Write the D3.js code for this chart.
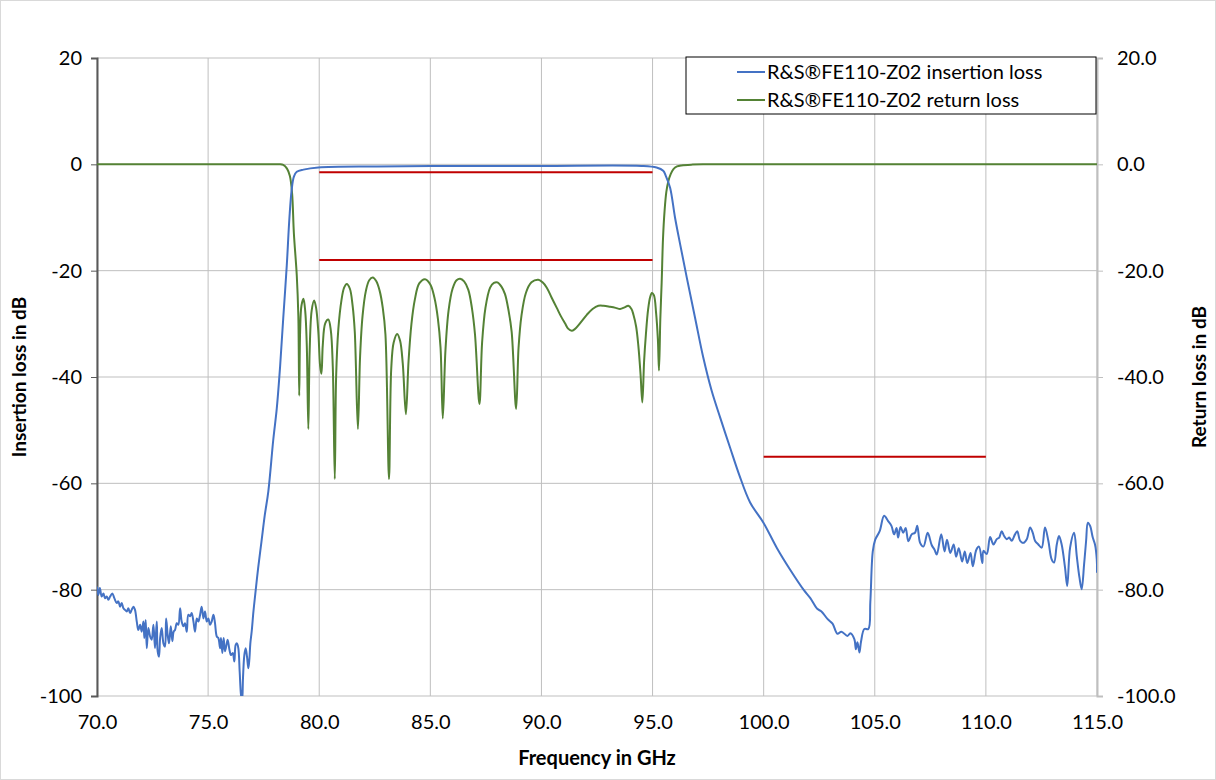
<!DOCTYPE html>
<html>
<head>
<meta charset="utf-8">
<script src="https://cdn.jsdelivr.net/npm/d3@7"></script>
<style>
  body { margin: 0; background: #fff; }
  svg { font-family: Lato, "Liberation Sans", sans-serif; }
</style>
</head>
<body>
<div id="chart"></div>
<script>
// tick values for both axes
const freqTicks = [70, 75, 80, 85, 90, 95, 100, 105, 110, 115];
const dbTicks = [20, 0, -20, -40, -60, -80, -100];

// series names
const seriesNames = ["R&S®FE110-Z02 insertion loss", "R&S®FE110-Z02 return loss"];

// insertion loss, [GHz, dB]
const insertionLoss = [
  [70.0, -79.4], [70.06, -81.0], [70.13, -79.7], [70.21, -81.3], [70.29, -80.7], [70.36, -81.6],
  [70.44, -81.3], [70.51, -81.9], [70.59, -81.3], [70.69, -80.7], [70.78, -81.6], [70.89, -82.5],
  [70.96, -82.2], [71.04, -83.2], [71.11, -82.5], [71.19, -83.5], [71.26, -83.8], [71.34, -84.1],
  [71.41, -83.5], [71.49, -84.4], [71.56, -83.8], [71.64, -83.2], [71.71, -83.8], [71.79, -86.0],
  [71.86, -87.6], [71.94, -86.6], [72.01, -87.9], [72.09, -86.0], [72.13, -89.1], [72.19, -85.7],
  [72.24, -91.0], [72.31, -87.2], [72.39, -88.8], [72.46, -89.4], [72.54, -86.6], [72.61, -91.0],
  [72.69, -86.0], [72.73, -91.6], [72.79, -92.6], [72.84, -89.1], [72.91, -87.2], [72.99, -90.1],
  [73.06, -90.7], [73.11, -85.4], [73.18, -88.5], [73.24, -90.1], [73.32, -86.9], [73.39, -89.7],
  [73.45, -87.9], [73.51, -87.6], [73.59, -86.3], [73.66, -86.6], [73.74, -83.5], [73.81, -86.0],
  [73.89, -86.9], [73.96, -86.3], [74.04, -87.9], [74.11, -84.7], [74.19, -85.0], [74.26, -84.4],
  [74.34, -86.0], [74.41, -87.9], [74.49, -85.4], [74.56, -86.0], [74.64, -84.7], [74.71, -83.2],
  [74.79, -85.4], [74.86, -84.1], [74.94, -86.0], [75.01, -85.4], [75.09, -86.6], [75.16, -86.0],
  [75.24, -84.7], [75.31, -86.3], [75.39, -88.8], [75.46, -89.1], [75.54, -91.0], [75.58, -89.1],
  [75.64, -91.9], [75.70, -89.1], [75.76, -91.6], [75.84, -90.1], [75.88, -89.4], [75.96, -91.3],
  [76.03, -92.3], [76.11, -91.9], [76.18, -93.5], [76.24, -90.4], [76.30, -90.1], [76.36, -91.0],
  [76.42, -95.4], [76.48, -99.8], [76.53, -101.0], [76.57, -96.6], [76.63, -92.3], [76.69, -91.0],
  [76.75, -92.6], [76.81, -94.8], [76.86, -92.9], [76.90, -90.1], [76.96, -87.9], [77.04, -84.1],
  [77.11, -81.3], [77.25, -76.0], [77.4, -71.0], [77.55, -66.0], [77.71, -61.5], [77.93, -51.9],
  [78.09, -45.9], [78.24, -38.0], [78.38, -29.0], [78.54, -19.0], [78.66, -10.0], [78.76, -4.8],
  [78.86, -2.3], [78.99, -1.4], [79.29, -1.0], [79.96, -0.6], [82.6, -0.4], [86.3, -0.3],
  [90.0, -0.3], [94.5, -0.3], [95.18, -0.6], [95.48, -1.2], [95.6, -2.2], [95.79, -4.4],
  [96.01, -10.0], [96.24, -15.0], [96.54, -21.3], [96.91, -28.8], [97.28, -36.3], [97.66, -42.6],
  [98.04, -47.6], [98.49, -53.3], [98.9, -58.4], [99.39, -63.6], [99.99, -67.4], [100.6, -72.2],
  [101.2, -76.3], [101.81, -80.1], [102.1, -81.6], [102.41, -83.6], [102.6, -84.1], [102.87, -85.5],
  [103.1, -86.4], [103.32, -88.3], [103.5, -87.9], [103.77, -88.7], [103.9, -88.2], [104.08, -89.3],
  [104.15, -91.2], [104.22, -89.9], [104.31, -91.8], [104.38, -89.8], [104.53, -87.4], [104.71, -87.4],
  [104.8, -82.3], [104.91, -72.8], [105.02, -70.6], [105.22, -69.0], [105.42, -66.1], [105.6, -67.1],
  [105.75, -68.0], [105.87, -69.6], [105.98, -68.4], [106.05, -70.2], [106.16, -68.2], [106.28, -69.3],
  [106.39, -68.4], [106.51, -70.9], [106.66, -69.6], [106.81, -69.3], [106.91, -68.0], [107.04, -71.2],
  [107.19, -71.9], [107.38, -69.3], [107.56, -71.6], [107.69, -72.5], [107.79, -73.4], [107.99, -69.6],
  [108.14, -72.8], [108.25, -70.6], [108.40, -73.1], [108.55, -71.5], [108.66, -73.8], [108.78, -72.2],
  [108.93, -74.7], [109.05, -72.8], [109.16, -75.0], [109.31, -73.1], [109.41, -75.6], [109.57, -72.5],
  [109.69, -71.9], [109.84, -75.0], [109.89, -72.7], [110.04, -73.3], [110.19, -70.1], [110.34, -71.5],
  [110.49, -70.5], [110.60, -70.2], [110.71, -69.0], [110.82, -69.9], [110.94, -70.5], [111.05, -70.2],
  [111.16, -70.8], [111.31, -69.6], [111.41, -69.0], [111.54, -70.8], [111.68, -71.2], [111.84, -70.5],
  [111.99, -68.3], [112.11, -69.3], [112.21, -70.8], [112.36, -71.5], [112.51, -72.1], [112.66, -68.3],
  [112.81, -70.8], [112.96, -74.3], [113.07, -74.9], [113.19, -71.5], [113.29, -69.9], [113.41, -71.5],
  [113.56, -75.8], [113.66, -79.3], [113.79, -72.1], [113.97, -69.3], [114.09, -73.7], [114.21, -77.7],
  [114.31, -79.9], [114.42, -75.2], [114.51, -70.8], [114.59, -67.4], [114.69, -68.0], [114.81, -70.2],
  [114.91, -71.5], [114.99, -74.3], [115.0, -76.8]
];

// return loss, [GHz, dB]
const returnLoss = [
  [70.0, 0], [72.0, 0], [74.0, 0], [76.0, 0], [77.0, 0], [77.6, 0], [78.0, 0],
  [78.2, 0], [78.38, -0.1], [78.55, -0.8], [78.68, -2.2], [78.78, -5.5], [78.86, -13.0],
  [78.99, -20.9], [79.06, -28.5], [79.10, -43.5], [79.14, -31.5], [79.2, -26.6], [79.29, -25.3],
  [79.37, -27.6], [79.44, -34.0], [79.51, -49.8], [79.57, -35.0], [79.66, -27.5], [79.77, -25.6],
  [79.86, -27.0], [79.96, -31.5], [80.04, -37.9], [80.10, -39.4], [80.16, -34.0], [80.27, -29.9],
  [80.41, -29.2], [80.52, -31.2], [80.61, -38.0], [80.70, -59.2], [80.76, -40.0], [80.86, -31.0],
  [81.0, -25.6], [81.12, -23.2], [81.24, -22.5], [81.38, -23.4], [81.5, -26.5], [81.6, -31.5],
  [81.74, -49.8], [81.84, -36.0], [81.95, -28.5], [82.1, -23.8], [82.25, -21.8], [82.41, -21.3],
  [82.57, -22.0], [82.72, -23.8], [82.86, -27.0], [82.98, -32.0], [83.14, -59.2], [83.24, -38.5],
  [83.35, -33.5], [83.51, -31.9], [83.64, -33.2], [83.76, -37.5], [83.90, -47.0], [84.02, -37.0],
  [84.15, -30.0], [84.3, -25.5], [84.5, -22.4], [84.76, -21.6], [85.0, -22.6], [85.18, -25.0],
  [85.34, -29.0], [85.46, -34.5], [85.56, -47.8], [85.68, -35.0], [85.82, -27.5], [86.0, -23.4],
  [86.18, -21.8], [86.34, -21.5], [86.52, -22.0], [86.71, -23.6], [86.87, -27.0], [87.01, -32.0],
  [87.21, -45.1], [87.33, -33.5], [87.48, -27.0], [87.69, -23.2], [87.86, -22.3], [88.02, -22.2],
  [88.2, -23.0], [88.36, -24.4], [88.52, -27.5], [88.66, -31.5], [88.86, -46.0], [88.97, -34.5],
  [89.1, -28.5], [89.3, -24.2], [89.55, -22.2], [89.86, -21.7], [90.05, -22.2], [90.24, -23.2],
  [90.45, -25.0], [90.69, -27.0], [90.88, -28.6], [91.06, -29.9], [91.2, -30.9], [91.36, -31.3],
  [91.5, -31.0], [91.66, -30.3], [91.85, -29.3], [92.04, -28.3], [92.3, -27.2], [92.56, -26.6],
  [92.8, -26.6], [93.09, -26.8], [93.34, -27.0], [93.54, -27.2], [93.74, -26.9], [93.91, -26.6],
  [94.05, -27.2], [94.14, -28.3], [94.26, -30.5], [94.36, -34.1], [94.46, -39.5], [94.54, -44.8],
  [94.62, -37.0], [94.70, -32.0], [94.8, -27.3], [94.89, -25.0], [94.97, -24.2], [95.06, -24.6],
  [95.16, -28.0], [95.24, -33.0], [95.29, -38.8], [95.35, -29.0], [95.41, -22.2], [95.47, -14.0],
  [95.54, -8.8], [95.62, -5.2], [95.71, -3.2], [95.82, -1.8], [95.94, -0.9], [96.1, -0.4],
  [96.3, -0.2], [96.8, -0.05], [97.27, 0], [98.0, 0], [99.0, 0], [101.0, 0], [104.0, 0],
  [107.0, 0], [110.0, 0], [113.0, 0], [115.0, 0]
];

// red limit lines: [from GHz, to GHz, dB]
const limitLines = [[80, 95, -1.5], [80, 95, -18], [100, 110, -55]];

const W = 1216, H = 780;
const margin = { top: 58, right: 119, bottom: 84, left: 97 };

const svg = d3.select("#chart").append("svg")
  .attr("width", W)
  .attr("height", H);

// outer frame of the chart
svg.append("rect")
  .attr("x", 0.5).attr("y", 0.5)
  .attr("width", W - 1).attr("height", H - 1)
  .attr("fill", "#fff")
  .attr("stroke", "#d9d9d9");

const x = d3.scaleLinear().domain([70, 115]).range([margin.left, W - margin.right]);
const y = d3.scaleLinear().domain([-100, 20]).range([H - margin.bottom, margin.top]);

// gridlines
svg.append("g")
  .selectAll("line")
  .data(dbTicks)
  .join("line")
  .attr("x1", x(70)).attr("x2", x(115))
  .attr("y1", d => y(d)).attr("y2", d => y(d))
  .attr("stroke", "#bfbfbf").attr("stroke-width", 1);

svg.append("g")
  .selectAll("line")
  .data(freqTicks)
  .join("line")
  .attr("x1", d => x(d)).attr("x2", d => x(d))
  .attr("y1", y(20)).attr("y2", y(-100))
  .attr("stroke", "#bfbfbf").attr("stroke-width", 1);

// plain hyphen for negatives, like the original
const fmt0 = d => d.toFixed(0);
const fmt1 = d => d.toFixed(1);

// left axis
const leftAxis = svg.append("g")
  .attr("transform", `translate(${margin.left},0)`)
  .call(d3.axisLeft(y).tickValues(dbTicks).tickSize(6).tickPadding(9).tickFormat(fmt0));
leftAxis.select(".domain").attr("stroke", "#595959").attr("stroke-width", 2);
leftAxis.selectAll(".tick line").attr("stroke", "#595959");

// right axis
const rightAxis = svg.append("g")
  .attr("transform", `translate(${W - margin.right},0)`)
  .call(d3.axisRight(y).tickValues(dbTicks).tickSize(6).tickPadding(14).tickFormat(fmt1));
rightAxis.select(".domain").attr("stroke", "#bfbfbf").attr("stroke-width", 2);
rightAxis.selectAll(".tick line").attr("stroke", "#bfbfbf");

// bottom axis (labels only)
const bottomAxis = svg.append("g")
  .attr("transform", `translate(0,${H - margin.bottom})`)
  .call(d3.axisBottom(x).tickValues(freqTicks).tickSize(0).tickPadding(19).tickFormat(fmt1));
bottomAxis.select(".domain").remove();

svg.selectAll(".tick text")
  .attr("font-family", "Lato, sans-serif")
  .attr("font-size", 20)
  .attr("fill", "#000");

// clip for the series
svg.append("clipPath").attr("id", "plot-clip")
  .append("rect")
  .attr("x", margin.left).attr("y", margin.top)
  .attr("width", W - margin.left - margin.right)
  .attr("height", H - margin.top - margin.bottom);

const line = d3.line()
  .x(d => x(d[0]))
  .y(d => y(d[1]))
  .curve(d3.curveCatmullRom.alpha(0.5));

// limit lines
svg.append("g")
  .selectAll("line")
  .data(limitLines)
  .join("line")
  .attr("x1", d => x(d[0])).attr("x2", d => x(d[1]))
  .attr("y1", d => y(d[2])).attr("y2", d => y(d[2]))
  .attr("stroke", "#c00000").attr("stroke-width", 2);

const plot = svg.append("g").attr("clip-path", "url(#plot-clip)");

plot.append("path")
  .datum(returnLoss)
  .attr("d", line)
  .attr("fill", "none")
  .attr("stroke", "#548235")
  .attr("stroke-width", 2)
  .attr("stroke-linejoin", "round");

plot.append("path")
  .datum(insertionLoss)
  .attr("d", line)
  .attr("fill", "none")
  .attr("stroke", "#4472c4")
  .attr("stroke-width", 2)
  .attr("stroke-linejoin", "round");

// axis titles
svg.append("text")
  .attr("transform", `translate(26,${(margin.top + H - margin.bottom) / 2}) rotate(-90)`)
  .attr("text-anchor", "middle")
  .attr("font-size", 19)
  .attr("font-weight", "bold")
  .text("Insertion loss in dB");

svg.append("text")
  .attr("transform", `translate(1206,${(margin.top + H - margin.bottom) / 2}) rotate(-90)`)
  .attr("text-anchor", "middle")
  .attr("font-size", 19)
  .attr("font-weight", "bold")
  .text("Return loss in dB");

svg.append("text")
  .attr("x", (margin.left + W - margin.right) / 2)
  .attr("y", 765)
  .attr("text-anchor", "middle")
  .attr("font-size", 20)
  .attr("font-weight", "bold")
  .text("Frequency in GHz");

// legend
const legend = svg.append("g").attr("transform", "translate(686,57)");
legend.append("rect")
  .attr("width", 410).attr("height", 57)
  .attr("fill", "#fff")
  .attr("stroke", "#000");

const legendColors = ["#4472c4", "#548235"];
const items = legend.selectAll("g.item")
  .data(seriesNames)
  .join("g")
  .attr("transform", (d, i) => `translate(51,${15 + i * 28})`);
items.append("line")
  .attr("x1", 0).attr("x2", 28)
  .attr("stroke", (d, i) => legendColors[i])
  .attr("stroke-width", 2);
items.append("text")
  .attr("x", 30)
  .attr("dy", "0.35em")
  .attr("font-size", 20)
  .text(d => d);
</script>
</body>
</html>
